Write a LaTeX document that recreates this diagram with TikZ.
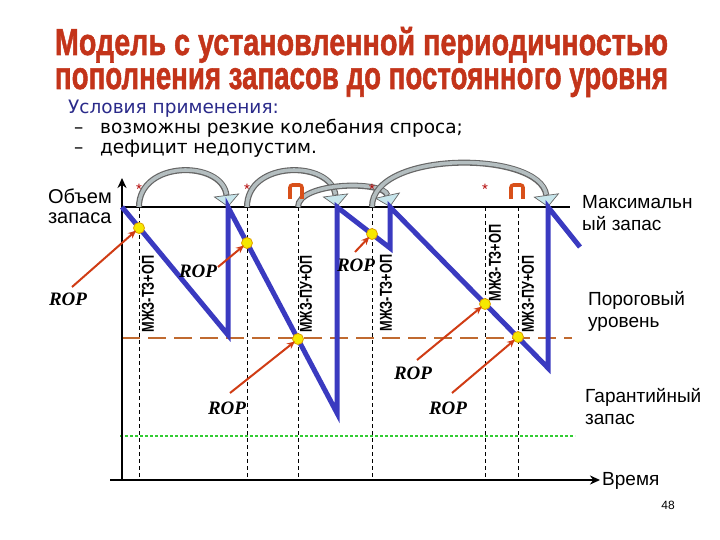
\documentclass[tikz,border=0pt]{standalone}
\usepackage{fontspec}
\setmainfont{Liberation Sans}
\newfontfamily\ropfont{Liberation Serif}
\newfontfamily\subfont{DejaVu Sans}
\newfontfamily\titlefont{Liberation Sans}[FakeBold=1.6]
\usetikzlibrary{arrows.meta}
\definecolor{titlered}{HTML}{C3341A}
\definecolor{subblue}{HTML}{2A2A8A}
\definecolor{sawblue}{HTML}{3A3AC0}
\definecolor{thrbrown}{HTML}{C06A30}
\definecolor{safegreen}{HTML}{33CC33}
\definecolor{roparrow}{HTML}{D03C14}
\definecolor{dotyellow}{HTML}{F5E800}
\definecolor{dotedge}{HTML}{E0A000}
\definecolor{arcbody}{HTML}{B4BEC0}
\definecolor{archead}{HTML}{C8E6EC}
\definecolor{glyphorange}{HTML}{D8501A}
\begin{document}
\begin{tikzpicture}[x=1pt,y=-1pt,
  lbl/.style={font=\fontsize{19}{22}\selectfont, align=left, inner sep=0pt},
  sublbl/.style={font=\fontsize{18.5}{22}\subfont, inner sep=0pt},
  roplbl/.style={font=\fontsize{19}{22}\ropfont\bfseries\itshape, inner sep=0pt},
  vlbl/.style={rotate=90, inner sep=0pt},
  ydot/.style={circle, fill=dotyellow, draw=dotedge, line width=0.8pt, minimum size=11pt, inner sep=0pt},
  roparr/.style={roparrow, line width=2pt, -{Stealth[length=8pt,width=7pt]}, shorten >=-2pt},
  vdash/.style={black, line width=0.6pt, dash pattern=on 4pt off 3pt},
  arcouter/.style={line width=6pt, draw=black!60, -{Triangle[width=26pt,length=12pt,fill=archead,line width=0.7pt]}},
  arcinner/.style={line width=3.6pt, draw=arcbody, shorten >=12.5pt},
  glyph/.pic={\draw[glyphorange, line width=3.6pt, rounded corners=2.5pt] (-6,8) -- (-6,-6) -- (6,-6) -- (6,8);
              \draw[white, line width=0.8pt] (0,-3) -- (0,8);},
  star/.style={text=red!70!black, font=\fontsize{15}{15}\selectfont, inner sep=0pt}
]
\useasboundingbox (0,0) rectangle (720,540);
% ---- title
\node[anchor=base, text=titlered, inner sep=0pt] (title1) at (361.5,55)
    {\resizebox{613pt}{28pt}{\titlefont\bfseries Модель с установленной периодичностью}};
\node[anchor=base, text=titlered, inner sep=0pt] (title2) at (361.5,89)
    {\resizebox{613pt}{21pt}{\titlefont\bfseries пополнения запасов до постоянного уровня}};
% ---- subtitle
\node[sublbl, anchor=base west, text=subblue] (cond) at (68,114) {Условия применения:};
\node[sublbl, anchor=base west] (c1d) at (74,134) {–};
\node[sublbl, anchor=base west] (c1) at (100,134) {возможны резкие колебания спроса;};
\node[sublbl, anchor=base west] (c2d) at (74,154) {–};
\node[sublbl, anchor=base west] (c2) at (100,154) {дефицит недопустим.};
% ---- reference lines
\draw[black, line width=2pt] (122,207) -- (570,207);
\draw[thrbrown, line width=2pt, dash pattern=on 18pt off 8pt] (122,338) -- (572,338);
\draw[safegreen, line width=2pt, dash pattern=on 3pt off 2pt] (120,436) -- (575,436);
% ---- dashed verticals
\foreach \x in {139,247,298,372,485,518}{\draw[vdash] (\x,207) -- (\x,480);}
% ---- axes
\draw[black, line width=2pt, -{Stealth[length=10pt,width=9pt]}] (122,480) -- (122,178);
\draw[black, line width=2pt, -{Stealth[length=10pt,width=9pt]}] (110,480) -- (600,480);
% ---- curved arrows
\coordinate (a1s) at (139,207); \coordinate (a1e) at (228,207);
\coordinate (a2s) at (247,207); \coordinate (a2e) at (337,207);
\coordinate (a3s) at (298,207); \coordinate (a3e) at (390,207);
\coordinate (a4s) at (372,207); \coordinate (a4e) at (548,207);
\draw[arcouter] (a1s) .. controls (139,160) and (222,160) .. (a1e);
\draw[arcinner] (a1s) .. controls (139,160) and (222,160) .. (a1e);
\draw[arcouter] (a2s) .. controls (247,160) and (331,160) .. (a2e);
\draw[arcinner] (a2s) .. controls (247,160) and (331,160) .. (a2e);
\draw[arcouter] (a3s) .. controls (298,182) and (384,180) .. (a3e);
\draw[arcinner] (a3s) .. controls (298,182) and (384,180) .. (a3e);
\draw[arcouter] (a4s) .. controls (372,150) and (540,150) .. (a4e);
\draw[arcinner] (a4s) .. controls (372,150) and (540,150) .. (a4e);
% ---- sawtooth
\draw[sawblue, line width=5pt, line join=miter] (122,207) -- (228,335) -- (228,207) -- (337,413) -- (337,207) -- (390,248) -- (390,207) -- (548,368) -- (548,207) -- (580,247);
% ---- stars and glyphs
\foreach \x in {139,247,372,485}{\node[star] at (\x,189) {*};}
\pic at (296,191) {glyph};
\pic at (517,191) {glyph};
% ---- vertical labels
\node[vlbl] (v1) at (148,294) {\resizebox{77pt}{12pt}{\bfseries МЖЗ-ТЗ+ОП}};
\node[vlbl] (v2) at (306,294) {\resizebox{77pt}{12pt}{\bfseries МЖЗ-ПУ+ОП}};
\node[vlbl] (v3) at (386,293) {\resizebox{77pt}{12pt}{\bfseries МЖЗ-ТЗ+ОП}};
\node[vlbl] (v4) at (495,263) {\resizebox{77pt}{12pt}{\bfseries МЖЗ-ТЗ+ОП}};
\node[vlbl] (v5) at (528,294) {\resizebox{77pt}{12pt}{\bfseries МЖЗ-ПУ+ОП}};
% ---- yellow dots
\node[ydot] (d1) at (139,228) {};
\node[ydot] (d2) at (247,243) {};
\node[ydot] (d3) at (298,339) {};
\node[ydot] (d4) at (372,234) {};
\node[ydot] (d5) at (485,304) {};
\node[ydot] (d6) at (518,337) {};
% ---- ROP labels and arrows
\node[roplbl] (r1) at (68,299) {ROP};
\node[roplbl] (r2) at (198,271) {ROP};
\node[roplbl] (r3) at (227,408) {ROP};
\node[roplbl] (r4) at (356,265) {ROP};
\node[roplbl] (r5) at (413,373) {ROP};
\node[roplbl] (r6) at (448,408) {ROP};
\coordinate (s1) at (72,287);
\coordinate (s2) at (218,267);
\coordinate (s3) at (230,393);
\coordinate (s4) at (355,252);
\coordinate (s5) at (417,360);
\coordinate (s6) at (452,393);
\draw[roparr] (s1) -- (d1);
\draw[roparr] (s2) -- (d2);
\draw[roparr] (s3) -- (d3);
\draw[roparr] (s4) -- (d4);
\draw[roparr] (s5) -- (d5);
\draw[roparr] (s6) -- (d6);
% ---- side labels
\node[lbl, anchor=north east, align=left, font=\fontsize{20}{20}\selectfont] (vol) at (112,189) {Объем\\запаса};
\node[lbl, anchor=north west] (maxl) at (582,195) {Максимальн\\ый запас};
\node[lbl, anchor=north west] (thr) at (588,291) {Пороговый\\уровень};
\node[lbl, anchor=north west] (gar) at (585,388) {Гарантийный\\запас};
\node[lbl, anchor=west] (time) at (602,481) {Время};
\node[font=\fontsize{12}{12}\selectfont, inner sep=0pt] (pg) at (668,505) {48};
\end{tikzpicture}
\end{document}
